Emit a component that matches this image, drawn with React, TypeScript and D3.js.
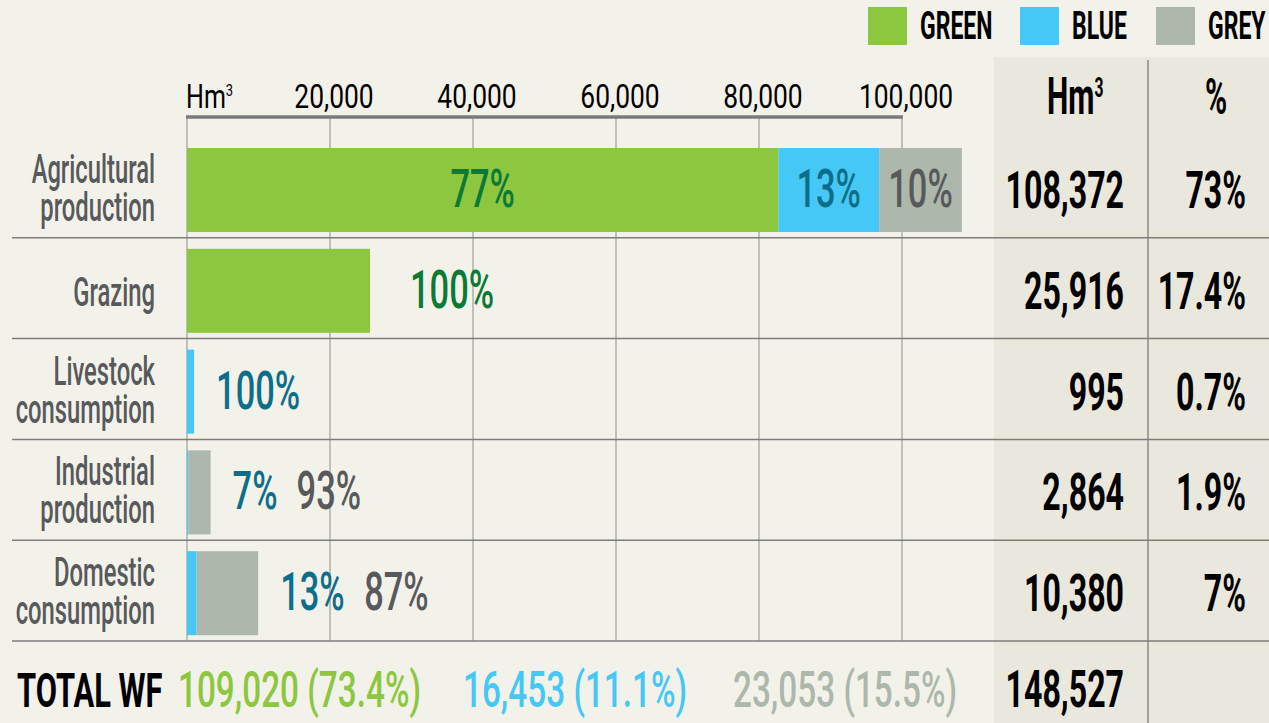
import React from 'react';
import * as d3 from 'd3';

// chart data
const categories = ['Agricultural production', 'Grazing', 'Livestock consumption', 'Industrial production', 'Domestic consumption'];
const labelLines = [['Agricultural', 'production'], ['Grazing'], ['Livestock', 'consumption'], ['Industrial', 'production'], ['Domestic', 'consumption']];
const greenValues = [82700, 25600, 0, 0, 0];
const blueValues = [14100, 0, 995, 200, 1349];
const greyValues = [11572, 0, 0, 3100, 8600];
const greenShare = ['77%', '100%', null, null, null];
const blueShare = ['13%', null, '100%', '7%', '13%'];
const greyShare = ['10%', null, null, '93%', '87%'];
const totalHm3 = ['108,372', '25,916', '995', '2,864', '10,380'];
const totalPct = ['73%', '17.4%', '0.7%', '1.9%', '7%'];
const xTicks = [20000, 40000, 60000, 80000, 100000];
const totalsRow = ['109,020 (73.4%)', '16,453 (11.1%)', '23,053 (15.5%)'];
const grandTotal = '148,527';
const legendItems = ['GREEN', 'BLUE', 'GREY'];

const W = 1269, H = 723;
const FONT = 'Roboto, "Noto Sans", sans-serif';
const SX = 0.62; // squeeze glyphs to look like the condensed face

const fill = { green: '#8dc63f', blue: '#45c8f5', grey: '#adb7ac' };
const ink = { green: '#0b7a35', blue: '#0d6e8a', grey: '#58595b' };

// text drawn with horizontal squeeze
const T = ({ x, y, size, weight = 500, color = '#000', anchor = 'start', sx = SX, children }: any) => (
    <text transform={`translate(${x},${y}) scale(${sx},1)`} fontFamily={FONT} fontSize={size}
          fontWeight={weight} fill={color} textAnchor={anchor}>{children}</text>
);

export default function App() {
    const x = d3.scaleLinear().domain([0, 100000]).range([187, 902]);
    const y = d3.scaleBand().domain(categories).range([137, 641]);
    const rowH = y.bandwidth();

    const table = categories.map((c, i) => ({ cat: c, green: greenValues[i], blue: blueValues[i], grey: greyValues[i] }));
    const keys = ['green', 'blue', 'grey'];
    const shares: any = { green: greenShare, blue: blueShare, grey: greyShare };
    const series = d3.stack().keys(keys)(table as any);

    // labels: inside the segments for the big bar, after the bar end otherwise
    const barLabels: any[] = [];
    categories.forEach((c, i) => {
        const end = x(greenValues[i] + blueValues[i] + greyValues[i]);
        const inside = end - x(0) > 300;
        let cursor = end + (greenShare[i] ? 40 : 22);
        keys.forEach(k => {
            const s = series.find(d => d.key === k)!;
            const label = shares[k][i];
            if (!label) return;
            if (inside) {
                const [a, b] = s[i];
                barLabels.push({ k, label, x: (x(a) + x(b)) / 2, y: y(c)! + 70, anchor: 'middle' });
            } else {
                barLabels.push({ k, label, x: cursor, y: y(c)! + 70, anchor: 'start' });
                cursor += label.length * 20 + 24;
            }
        });
    });

    return (
        <svg width={W} height={H} style={{ position: 'absolute', left: 0, top: 0, display: 'block' }}>
            <rect width={W} height={H} fill="#f3f2ea" />
            <rect x={994} y={57} width={W - 994} height={H - 57} fill="#eae8dc" />
            <line x1={1148} x2={1148} y1={60} y2={H} stroke="#8a8a8a" strokeWidth={1.5} />

            {/* legend */}
            {legendItems.map((name, i) => {
                const lx = [868, 1020, 1156][i];
                const k = keys[i] as keyof typeof fill;
                return (
                    <g key={name}>
                        <rect x={lx} y={7} width={39} height={38} fill={fill[k]} />
                        <T x={lx + 52} y={39} size={39} weight={700} sx={0.59}>{name}</T>
                    </g>
                );
            })}

            {/* column headers */}
            <T x={1047} y={114} size={52} weight={700} sx={0.58}>
                Hm<tspan dy={-17} fontSize={27}>3</tspan>
            </T>
            <T x={1216} y={114} size={50} weight={700} anchor="middle" sx={0.6}>%</T>

            {/* grid */}
            {[0, ...xTicks].map(t => (
                <line key={t} x1={x(t)} x2={x(t)} y1={117} y2={641} stroke="#a3a3a3" strokeWidth={1.3} />
            ))}
            <line x1={x(0) - 1} x2={x(100000) + 1} y1={117} y2={117} stroke="#7a7a7a" strokeWidth={3.5} />
            <T x={186} y={108} size={33} weight={400} sx={0.76}>
                Hm<tspan dy={-12} fontSize={17}>3</tspan>
            </T>
            {xTicks.map(t => (
                <T key={t} x={x(t) + 4} y={108} size={33} weight={400} anchor="middle" sx={0.8}>{d3.format(',')(t)}</T>
            ))}

            {/* row separators */}
            {categories.map(c => (
                <line key={c} x1={12} x2={W} y1={y(c)! + rowH} y2={y(c)! + rowH} stroke="#7d7d7d" strokeWidth={1.5} />
            ))}

            {/* bars */}
            {series.map(s => (
                <g key={s.key} fill={fill[s.key as keyof typeof fill]}>
                    {s.map((d, i) => (
                        <rect key={i} x={x(d[0])} y={y(categories[i])! + 11} width={x(d[1]) - x(d[0])} height={84} />
                    ))}
                </g>
            ))}

            {barLabels.map((l, i) => (
                <T key={i} x={l.x} y={l.y} size={53} weight={500} color={ink[l.k as keyof typeof ink]}
                   anchor={l.anchor} sx={0.65}>{l.label}</T>
            ))}

            {/* category labels, one text block per row */}
            {categories.map((c, i) => {
                const lines = labelLines[i];
                return (
                    <T key={c} x={155} y={y(c)! + (lines.length === 1 ? 68 : 46)} size={41} color="#58595b"
                       anchor="end" sx={0.58}>
                        {lines.map((ln, j) => (
                            <tspan key={j} x={0} dy={j === 0 ? 0 : 38}>{ln}</tspan>
                        ))}
                    </T>
                );
            })}

            {/* right table */}
            {categories.map((c, i) => (
                <g key={c}>
                    <T x={1124} y={y(c)! + 71} size={51} weight={700} anchor="end" sx={0.63}>{totalHm3[i]}</T>
                    <T x={1246} y={y(c)! + 71} size={51} weight={700} anchor="end" sx={0.63}>{totalPct[i]}</T>
                </g>
            ))}

            {/* totals */}
            <T x={17} y={707} size={49} weight={700} sx={0.63}>TOTAL WF</T>
            {totalsRow.map((t, i) => (
                <T key={t} x={[178, 463, 733][i]} y={707} size={49} weight={500} sx={0.68}
                   color={fill[keys[i] as keyof typeof fill]}>{t}</T>
            ))}
            <T x={1124} y={707} size={51} weight={700} anchor="end" sx={0.63}>{grandTotal}</T>
        </svg>
    );
}
